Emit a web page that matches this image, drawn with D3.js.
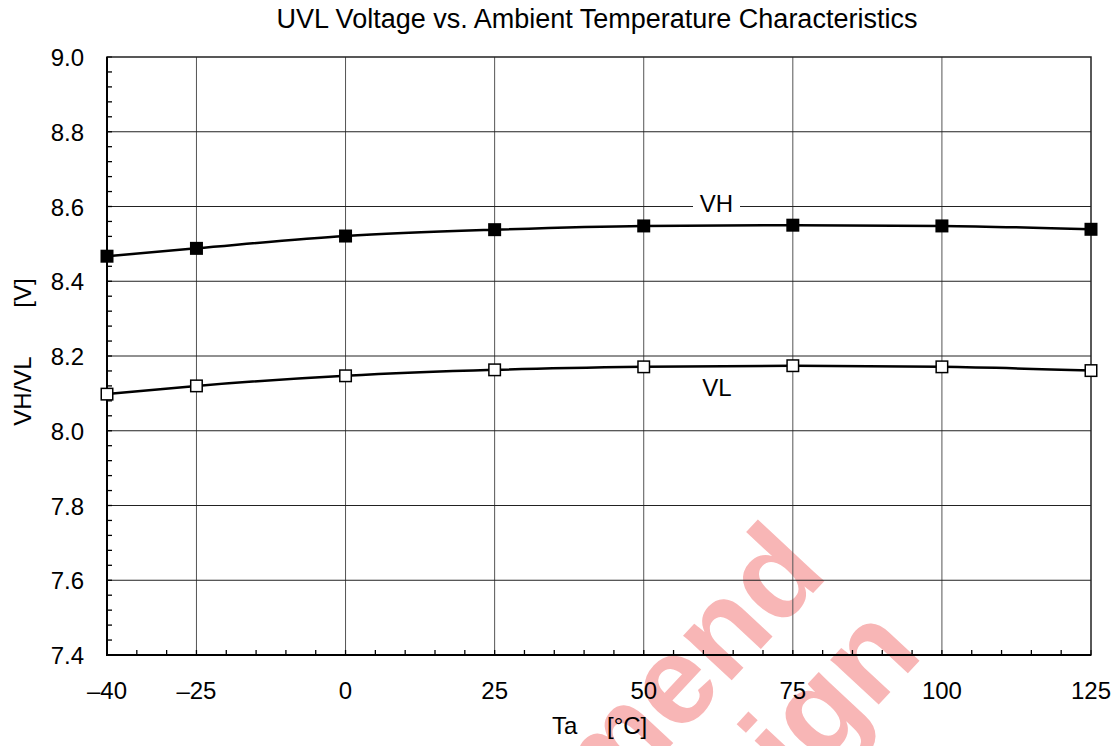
<!DOCTYPE html>
<html>
<head>
<meta charset="utf-8">
<script src="https://cdn.jsdelivr.net/npm/d3@7"></script>
<style>
  body { margin: 0; background: #fff; }
  svg { font-family: "Liberation Sans", Arial, sans-serif; }
</style>
</head>
<body>
<svg id="chart" width="1120" height="746"></svg>
<script>
// data
const temps = [-40, -25, 0, 25, 50, 75, 100, 125];
const vh = [8.467, 8.488, 8.521, 8.538, 8.548, 8.550, 8.548, 8.539];
const vl = [8.098, 8.120, 8.147, 8.163, 8.171, 8.174, 8.171, 8.161];
const xTicks = [-40, -25, 0, 25, 50, 75, 100, 125];
const yTicks = [7.4, 7.6, 7.8, 8.0, 8.2, 8.4, 8.6, 8.8, 9.0];

const svg = d3.select("#chart");
const m = { left: 107, right: 1091, top: 57, bottom: 655 };

const x = d3.scaleLinear().domain([-40, 125]).range([m.left, m.right]);
const y = d3.scaleLinear().domain([7.4, 9.0]).range([m.bottom, m.top]);

// watermark, sits behind the chart
const wm = svg.append("g")
    .attr("transform", "translate(830,575) rotate(-47)")
    .attr("fill", "#f8b6b6")
    .attr("font-weight", "bold")
    .attr("font-size", 125)
    .attr("text-anchor", "end");
wm.append("text").attr("x", 0).attr("y", 0).text("Not Recommend");
wm.append("text").attr("x", 6).attr("y", 124).text("for New Design");

// grid
svg.append("g").selectAll("line")
    .data(xTicks.slice(1, -1))
    .join("line")
    .attr("x1", d => x(d)).attr("x2", d => x(d))
    .attr("y1", m.top).attr("y2", m.bottom)
    .attr("stroke", "#555").attr("stroke-width", 1);

svg.append("g").selectAll("line")
    .data(yTicks.slice(1, -1))
    .join("line")
    .attr("x1", m.left).attr("x2", m.right)
    .attr("y1", d => y(d)).attr("y2", d => y(d))
    .attr("stroke", "#222").attr("stroke-width", 1);

// minor ticks pointing inward
const xMinor = d3.range(-40, 126, 5);
svg.append("g").selectAll("line")
    .data(xMinor)
    .join("line")
    .attr("x1", d => x(d)).attr("x2", d => x(d))
    .attr("y1", m.bottom).attr("y2", m.bottom - 5)
    .attr("stroke", "#000").attr("stroke-width", 1.3);

const yMinor = d3.range(0, 41).map(i => 7.4 + i * 0.04);
svg.append("g").selectAll("line")
    .data(yMinor)
    .join("line")
    .attr("x1", m.left).attr("x2", m.left + 5)
    .attr("y1", d => y(d)).attr("y2", d => y(d))
    .attr("stroke", "#000").attr("stroke-width", 1.3);

// frame
svg.append("rect")
    .attr("x", m.left).attr("y", m.top)
    .attr("width", m.right - m.left).attr("height", m.bottom - m.top)
    .attr("fill", "none").attr("stroke", "#222").attr("stroke-width", 1.5);
svg.append("path")
    .attr("d", `M${m.left},${m.top}V${m.bottom}H${m.right}`)
    .attr("fill", "none").attr("stroke", "#000").attr("stroke-width", 2);

// tick labels
svg.append("g").selectAll("text")
    .data(yTicks)
    .join("text")
    .attr("x", 84).attr("y", d => y(d) + 9)
    .attr("text-anchor", "end")
    .attr("font-size", 24)
    .text(d => d.toFixed(1));

svg.append("g").selectAll("text")
    .data(xTicks)
    .join("text")
    .attr("x", d => x(d)).attr("y", 699)
    .attr("text-anchor", "middle")
    .attr("font-size", 24)
    .text(d => d < 0 ? "\u2013" + Math.abs(d) : d);

// titles
svg.append("text")
    .attr("x", 597).attr("y", 28)
    .attr("text-anchor", "middle").attr("font-size", 27)
    .text("UVL Voltage vs. Ambient Temperature Characteristics");

svg.append("text")
    .attr("x", 552).attr("y", 734).attr("font-size", 24)
    .text("Ta");
svg.append("text")
    .attr("x", 607).attr("y", 734).attr("font-size", 24)
    .text("[°C]");

svg.append("text")
    .attr("transform", "translate(31,391) rotate(-90)")
    .attr("text-anchor", "middle").attr("font-size", 24)
    .text("VH/VL");
svg.append("text")
    .attr("transform", "translate(31,293) rotate(-90)")
    .attr("text-anchor", "middle").attr("font-size", 24)
    .text("[V]");

// curves
const line = d3.line()
    .x((d, i) => x(temps[i]))
    .y(d => y(d))
    .curve(d3.curveMonotoneX);

[vh, vl].forEach(s => {
  svg.append("path")
      .attr("d", line(s))
      .attr("fill", "none")
      .attr("stroke", "#000")
      .attr("stroke-width", 2.5);
});

// markers
const sz = 13;
svg.append("g").selectAll("rect")
    .data(vh)
    .join("rect")
    .attr("x", (d, i) => x(temps[i]) - sz / 2)
    .attr("y", d => y(d) - sz / 2)
    .attr("width", sz).attr("height", sz)
    .attr("fill", "#000");

svg.append("g").selectAll("rect")
    .data(vl)
    .join("rect")
    .attr("x", (d, i) => x(temps[i]) - sz / 2 + 0.75)
    .attr("y", d => y(d) - sz / 2 + 0.75)
    .attr("width", sz - 1.5).attr("height", sz - 1.5)
    .attr("fill", "#fff").attr("stroke", "#000").attr("stroke-width", 1.5);

// series labels
svg.append("rect")
    .attr("x", 693).attr("y", 192).attr("width", 47).attr("height", 26)
    .attr("fill", "#fff");
svg.append("text")
    .attr("x", 716.5).attr("y", 212)
    .attr("text-anchor", "middle").attr("font-size", 24)
    .text("VH");
svg.append("text")
    .attr("x", 717).attr("y", 396)
    .attr("text-anchor", "middle").attr("font-size", 24)
    .text("VL");
</script>
</body>
</html>
